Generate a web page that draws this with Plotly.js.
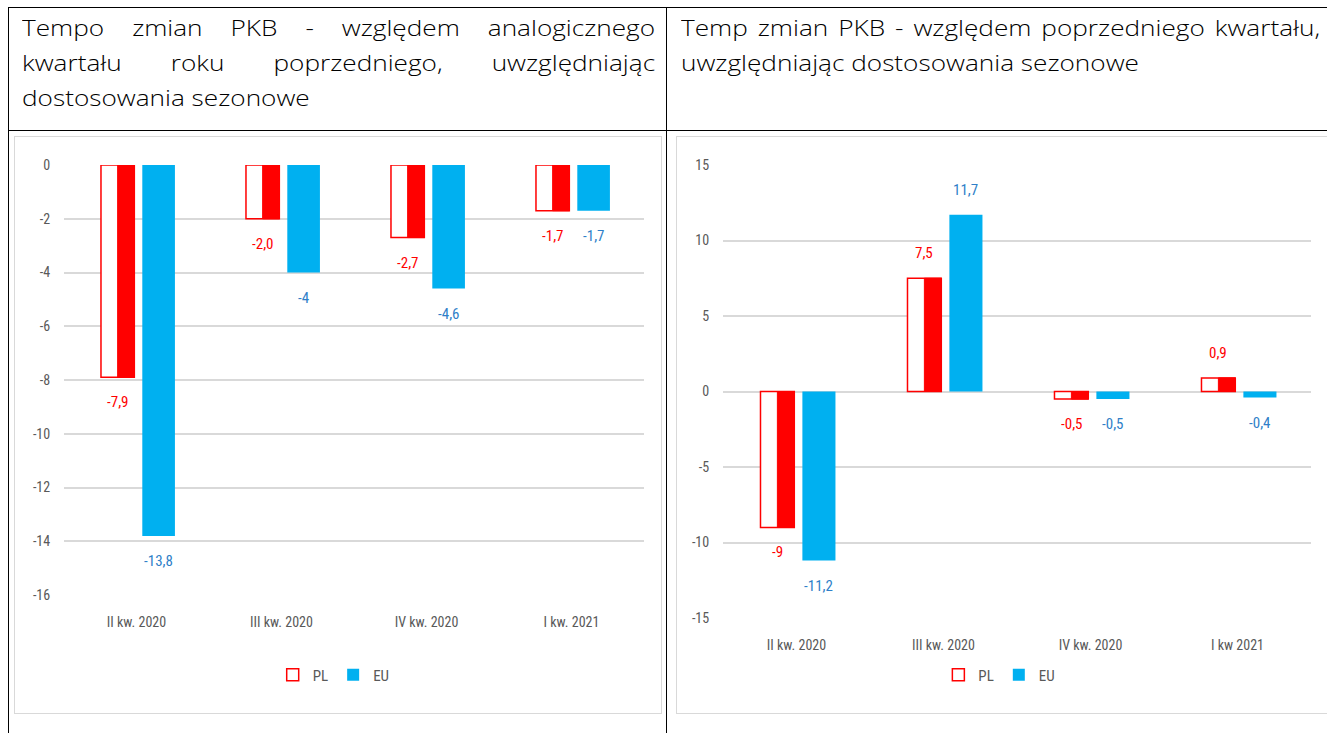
<!DOCTYPE html>
<html><head><meta charset="utf-8">
<script src="https://cdn.plot.ly/plotly-3.0.1.min.js"></script>
<style>
body{margin:0;background:#fff;width:1327px;height:733px;overflow:hidden;position:relative}
.ln{position:absolute;background:#000}
.title{position:absolute;font-family:"Open Sans",sans-serif;font-weight:300;font-size:22px;line-height:35px;color:#000;transform:scaleX(1.19);transform-origin:0 0}
.title div{text-align:justify;text-align-last:justify;white-space:nowrap}
.title div.last{text-align-last:left}
.box{position:absolute;border:1.5px solid #d9d9d9;box-sizing:border-box;background:#fff}
.chart{position:absolute}
</style></head>
<body>
<div class="ln" style="left:8px;top:7px;width:1319px;height:1px"></div>
<div class="ln" style="left:8px;top:130px;width:1319px;height:1px"></div>
<div class="ln" style="left:8px;top:7px;width:1px;height:726px"></div>
<div class="ln" style="left:666px;top:7px;width:1px;height:726px"></div>
<div class="title" id="t1" style="left:22px;top:10px;width:532px"></div>
<div class="title" id="t2" style="left:681px;top:10px;width:537px"></div>
<div class="box" style="left:14px;top:136px;width:648px;height:578px"></div>
<div class="box" style="left:676px;top:136px;width:660px;height:578px"></div>
<div class="chart" id="c1" style="left:15px;top:137px;width:646px;height:576px"></div>
<div class="chart" id="c2" style="left:677px;top:137px;width:650px;height:576px"></div>
<script>
const titleLeftLines = ["Tempo zmian PKB - względem analogicznego", "kwartału roku poprzedniego, uwzględniając", "dostosowania sezonowe"];
const titleRightLines = ["Temp zmian PKB - względem poprzedniego kwartału,", "uwzględniając dostosowania sezonowe"];

const categoriesLeft = ["II kw. 2020", "III kw. 2020", "IV kw. 2020", "I kw. 2021"];
const plLeft = [-7.9, -2.0, -2.7, -1.7];
const euLeft = [-13.8, -4, -4.6, -1.7];
const plLeftLabels = ["-7,9", "-2,0", "-2,7", "-1,7"];
const euLeftLabels = ["-13,8", "-4", "-4,6", "-1,7"];
const yTicksLeft = [0, -2, -4, -6, -8, -10, -12, -14, -16];

const categoriesRight = ["II kw. 2020", "III kw. 2020", "IV kw. 2020", "I kw 2021"];
const plRight = [-9, 7.5, -0.5, 0.9];
const euRight = [-11.2, 11.7, -0.5, -0.4];
const plRightLabels = ["-9", "7,5", "-0,5", "0,9"];
const euRightLabels = ["-11,2", "11,7", "-0,5", "-0,4"];
const yTicksRight = [15, 10, 5, 0, -5, -10, -15];

function fillTitle(id, lines) {
  const el = document.getElementById(id);
  lines.forEach((t, i) => {
    const d = document.createElement('div');
    d.textContent = t;
    if (i === lines.length - 1) d.className = 'last';
    d.style.whiteSpace = 'normal';
    el.appendChild(d);
  });
}
fillTitle('t1', titleLeftLines);
fillTitle('t2', titleRightLines);

const RED = '#FF0000', BLUE = '#00B0F0';
const FONT = '"Liberation Sans Narrow", "Roboto Condensed", Roboto, sans-serif';

function makeChart(id, cats, pl, eu, plLab, euLab, ticks, range, margin, legendX, legendY) {
  const plOff = -0.245, plW = 0.23, euOff = 0.04, euW = 0.225;
  const traces = [
    {type:'bar', name:'PL', x:cats, y:pl, offset:plOff, width:plW,
     marker:{color:'#ffffff', line:{color:RED, width:1.5}}, hoverinfo:'skip'},
    {type:'bar', name:'PL', x:cats, y:pl, offset:plOff+plW/2, width:plW/2,
     marker:{color:RED, line:{color:RED, width:1}}, showlegend:false, hoverinfo:'skip'},
    {type:'bar', name:'EU', x:cats, y:eu, offset:euOff, width:euW,
     marker:{color:BLUE, line:{width:0}}, hoverinfo:'skip'}
  ];
  const ann = [];
  cats.forEach((c, i) => {
    ann.push({x:i+plOff+plW/2, y:pl[i], xref:'x', yref:'y', text:plLab[i], showarrow:false,
      yshift: pl[i] >= 0 ? 25 : -25, font:{color:RED, size:15, family:FONT}});
    ann.push({x:i+euOff+euW/2, y:eu[i], xref:'x', yref:'y', text:euLab[i], showarrow:false,
      yshift: eu[i] >= 0 ? 25 : -25, font:{color:'#2F7FC8', size:15, family:FONT}});
  });
  const layout = {
    width: document.getElementById(id).clientWidth,
    height: 576,
    margin: margin,
    paper_bgcolor:'rgba(0,0,0,0)', plot_bgcolor:'rgba(0,0,0,0)',
    barmode:'overlay',
    font:{family:FONT, color:'#595959', size:14},
    showlegend:true,
    legend:{orientation:'h', x:legendX, xanchor:'center', y:legendY, yanchor:'middle',
      font:{size:15, color:'#595959'}, itemwidth:30, traceorder:'normal'},
    xaxis:{type:'category', range:[-0.5, 3.5], showgrid:false, zeroline:false, showline:false,
      ticks:'outside', ticklen:14, tickcolor:'rgba(0,0,0,0)', tickfont:{size:14, color:'#595959'}},
    yaxis:{range:range, tickvals:ticks, ticktext:ticks.map(v => String(v)), showgrid:true,
      gridcolor:'#d9d9d9', gridwidth:2, zeroline:false, showline:false,
      ticks:'outside', ticklen:10, tickcolor:'rgba(0,0,0,0)', tickfont:{size:14, color:'#595959'}},
    annotations: ann
  };
  Plotly.newPlot(id, traces, layout, {staticPlot:true, displayModeBar:false});
}

makeChart('c1', categoriesLeft, plLeft, euLeft, plLeftLabels, euLeftLabels, yTicksLeft,
  [-16, 0], {l:49, r:17, t:28, b:118}, 0.465, -0.186);
makeChart('c2', categoriesRight, plRight, euRight, plRightLabels, euRightLabels, yTicksRight,
  [-15, 15], {l:46, r:16, t:28, b:95}, 0.47, -0.126);
</script>
</body></html>
